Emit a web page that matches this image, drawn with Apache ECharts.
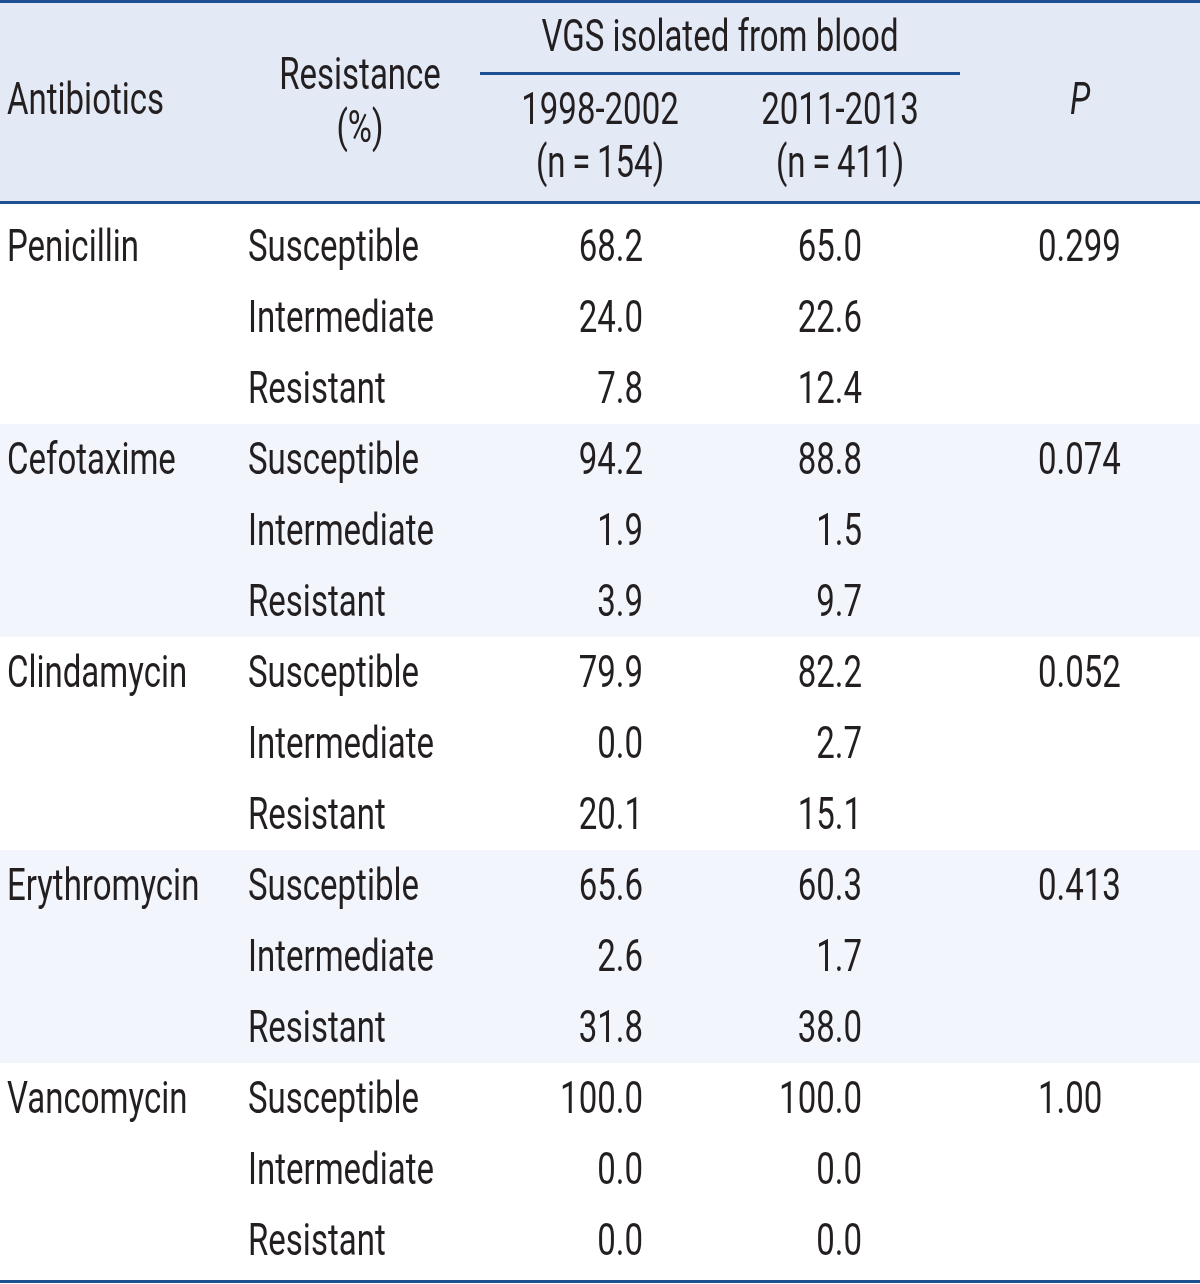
<!DOCTYPE html>
<html><head><meta charset="utf-8">
<script src="https://cdn.jsdelivr.net/npm/echarts@6/dist/echarts.min.js"></script>
<style>html,body{margin:0;padding:0;background:#fff}#main{width:1200px;height:1284px}</style>
</head><body><div id="main"></div>
<script>
// ---- data ----
const antibiotics = ['Penicillin', 'Cefotaxime', 'Clindamycin', 'Erythromycin', 'Vancomycin'];
const levels = ['Susceptible', 'Intermediate', 'Resistant'];
const period1 = [68.2, 24.0, 7.8, 94.2, 1.9, 3.9, 79.9, 0.0, 20.1, 65.6, 2.6, 31.8, 100.0, 0.0, 0.0];
const period2 = [65.0, 22.6, 12.4, 88.8, 1.5, 9.7, 82.2, 2.7, 15.1, 60.3, 1.7, 38.0, 100.0, 0.0, 0.0];
const pValues = ['0.299', '0.074', '0.052', '0.413', '1.00'];
const columnHeads = ['Antibiotics', ['Resistance', '(%)'], ['1998-2002', '(n\u2009=\u2009154)'], ['2011-2013', '(n\u2009=\u2009411)'], 'P'];
const groupHead = 'VGS isolated from blood';

// ---- styling ----
const FAMILY = "Roboto, 'Liberation Sans', sans-serif";
const FS = 44;
const FONT = FS + 'px ' + FAMILY;
const TXT = '#231f20', LINE = '#1d4f91', HEAD_BG = '#e3e9f5', BAND = '#f2f5fb';
// condense the installed font horizontally to mimic the condensed face of the original
const ctx = document.createElement('canvas').getContext('2d');
ctx.font = FONT;
const SX = 171 / ctx.measureText('Susceptible').width;

// ---- build table cells ----
const rowIds = period1.map((_, i) => String(i));
const colIds = ['0', '1', '2', '3', '4'];
const cells = [];
period1.forEach((v, r) => {
  const g = Math.floor(r / 3), k = r % 3;
  if (k === 0) cells.push([0, r, antibiotics[g]]);
  cells.push([1, r, levels[k]]);
  cells.push([2, r, v.toFixed(1)]);
  cells.push([3, r, period2[r].toFixed(1)]);
  if (k === 0) cells.push([4, r, pValues[g]]);
});
const bands = antibiotics.map((_, g) => [0, g * 3]).filter((_, g) => g % 2 === 1);

const colAlign = ['left', 'left', 'right', 'right', 'left'];
const colDx = [-113, -112, 43, 22, -42];

function headText(x, y, text, italic) {
  return {type: 'text', x: x, y: y, scaleX: SX,
    style: {text: text, font: (italic ? 'italic ' : '') + FONT, fill: TXT, align: x < 100 ? 'left' : 'center', verticalAlign: 'middle'}};
}

const chart = echarts.init(document.getElementById('main'), null, {renderer: 'canvas'});
const W = 1200;
chart.setOption({
  animation: false,
  backgroundColor: '#ffffff',
  grid: {left: 0, right: 0, top: 212, height: 1065},
  xAxis: {type: 'category', data: colIds, show: false},
  yAxis: {type: 'category', data: rowIds, inverse: true, show: false},
  graphic: [
    {type: 'rect', shape: {x: 0, y: 0, width: W, height: 203}, style: {fill: HEAD_BG}, z: -10},
    {type: 'rect', shape: {x: 0, y: 0, width: W, height: 3}, style: {fill: LINE}},
    {type: 'rect', shape: {x: 0, y: 201, width: W, height: 3}, style: {fill: LINE}},
    {type: 'rect', shape: {x: 0, y: 1280, width: W, height: 3}, style: {fill: LINE}},
    {type: 'rect', shape: {x: 480, y: 72, width: 480, height: 3}, style: {fill: LINE}},
    headText(7, 103, columnHeads[0]),
    headText(360, 78, columnHeads[1][0]),
    headText(360, 131, columnHeads[1][1]),
    headText(720, 40, groupHead),
    headText(600, 113, columnHeads[2][0]),
    headText(600, 166, columnHeads[2][1]),
    headText(840, 113, columnHeads[3][0]),
    headText(840, 166, columnHeads[3][1]),
    headText(1080, 103, columnHeads[4], true)
  ],
  series: [
    {
      type: 'custom', z: 1, data: bands,
      renderItem: function (params, api) {
        const p = api.coord([0, api.value(1)]);
        const s = api.size([1, 1]);
        const cs = params.coordSys;
        return {type: 'rect', shape: {x: cs.x, y: p[1] - s[1] / 2 - 1, width: cs.width, height: s[1] * 3}, style: {fill: BAND}};
      }
    },
    {
      type: 'custom', z: 2, data: cells,
      renderItem: function (params, api) {
        const col = api.value(0), row = api.value(1);
        const p = api.coord([col, row]);
        return {type: 'text', x: p[0] + colDx[col], y: p[1] + 2, scaleX: SX,
          style: {text: cells[params.dataIndex][2], font: FONT, fill: TXT, align: colAlign[col], verticalAlign: 'middle'}};
      }
    }
  ]
});
</script></body></html>
